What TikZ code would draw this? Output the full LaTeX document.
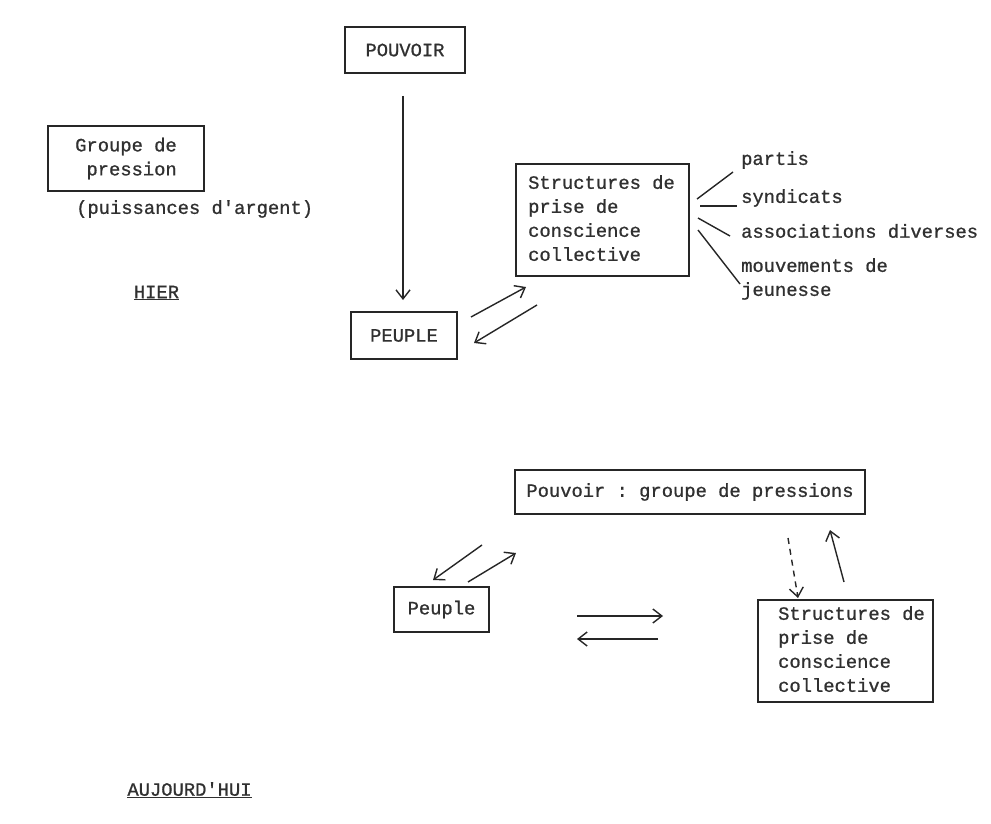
\documentclass[tikz,border=0pt]{standalone}
\usepackage{fontspec}
\setmonofont{Liberation Mono}[FakeBold=0.9]
\usetikzlibrary{arrows.meta}
\definecolor{ink}{HTML}{262626}
\definecolor{txt}{HTML}{303030}
\begin{document}
\begin{tikzpicture}[x=1pt,y=-1pt,
  every node/.style={font=\ttfamily\fontsize{18.8}{24}\selectfont, text=txt, inner sep=0pt},
  box/.style={draw=ink, line width=1.9pt},
  arr/.style={draw=ink, line width=1.4pt, -{Straight Barb[length=9pt,width=14pt,line width=1.4pt]}},
  dasharr/.style={arr, dash pattern=on 6pt off 5pt},
  ln/.style={draw=ink, line width=1.4pt}]
\useasboundingbox[fill=white] (0,0) rectangle (991,824);

% ---------- HIER ----------
\node[box, minimum width=120, minimum height=46] (pouvoir) at (405,50) {POUVOIR};
\node[box, minimum width=156, minimum height=65, align=right] (groupe) at (126,158.5) {Groupe de\\pression};
\node[anchor=west] (argent) at (76,209) {(puissances d'argent)};
\node (hier) at (156.5,293) {\underline{HIER}};
\node[box, minimum width=106, minimum height=47] (peuple) at (404,335.5) {PEUPLE};
\node[box, minimum height=112] (struct) at (602.5,220)
  {\begin{tabular}{@{\hspace{12pt}}l@{\hspace{14pt}}}Structures de\\prise de\\conscience\\collective\end{tabular}};

\node[anchor=west] (partis) at (741,160) {partis};
\node[anchor=west] (synd) at (741,198) {syndicats};
\node[anchor=west] (assoc) at (741,231) {associations diverses};
\node[anchor=west, align=left] (mouv) at (741,279) {mouvements de\\jeunesse};

\coordinate (a1) at (403,96);
\coordinate (a2) at (403,300);
\draw[arr] (a1) -- (a2);

\coordinate (b1) at (471,317);
\coordinate (b2) at (526,287);
\coordinate (c1) at (537,305);
\coordinate (c2) at (474,343);
\draw[arr] (b1) -- (b2);
\draw[arr] (c1) -- (c2);

\coordinate (l1a) at (697,199); \coordinate (l1b) at (733,172);
\coordinate (l2a) at (700,206); \coordinate (l2b) at (737,206);
\coordinate (l3a) at (698,218); \coordinate (l3b) at (730,236);
\coordinate (l4a) at (698,230); \coordinate (l4b) at (740,284);
\draw[ln] (l1a) -- (l1b);
\draw[ln] (l2a) -- (l2b);
\draw[ln] (l3a) -- (l3b);
\draw[ln] (l4a) -- (l4b);

% ---------- AUJOURD'HUI ----------
\node[box, minimum width=350, minimum height=44] (pouvoir2) at (690,492) {Pouvoir : groupe de pressions};
\node[box, minimum width=95, minimum height=45] (peuple2) at (441.5,609.5) {Peuple};
\node[box, minimum height=102] (struct2) at (845.5,651)
  {\begin{tabular}{@{\hspace{20pt}}l@{\hspace{8pt}}}Structures de\\prise de\\conscience\\collective\end{tabular}};
\node (auj) at (189.5,790) {\underline{AUJOURD'HUI}};

\coordinate (d1) at (482,545); \coordinate (d2) at (433,580);
\coordinate (e1) at (468,582); \coordinate (e2) at (516,553);
\draw[arr] (d1) -- (d2);
\draw[arr] (e1) -- (e2);

\coordinate (f1) at (577,616); \coordinate (f2) at (663,616);
\coordinate (g1) at (658,639); \coordinate (g2) at (577,639);
\draw[arr] (f1) -- (f2);
\draw[arr] (g1) -- (g2);

\coordinate (h1) at (788,538); \coordinate (h2) at (798,598);
\coordinate (k1) at (844,582); \coordinate (k2) at (830,530);
\draw[dasharr] (h1) -- (h2);
\draw[arr] (k1) -- (k2);
\end{tikzpicture}
\end{document}
